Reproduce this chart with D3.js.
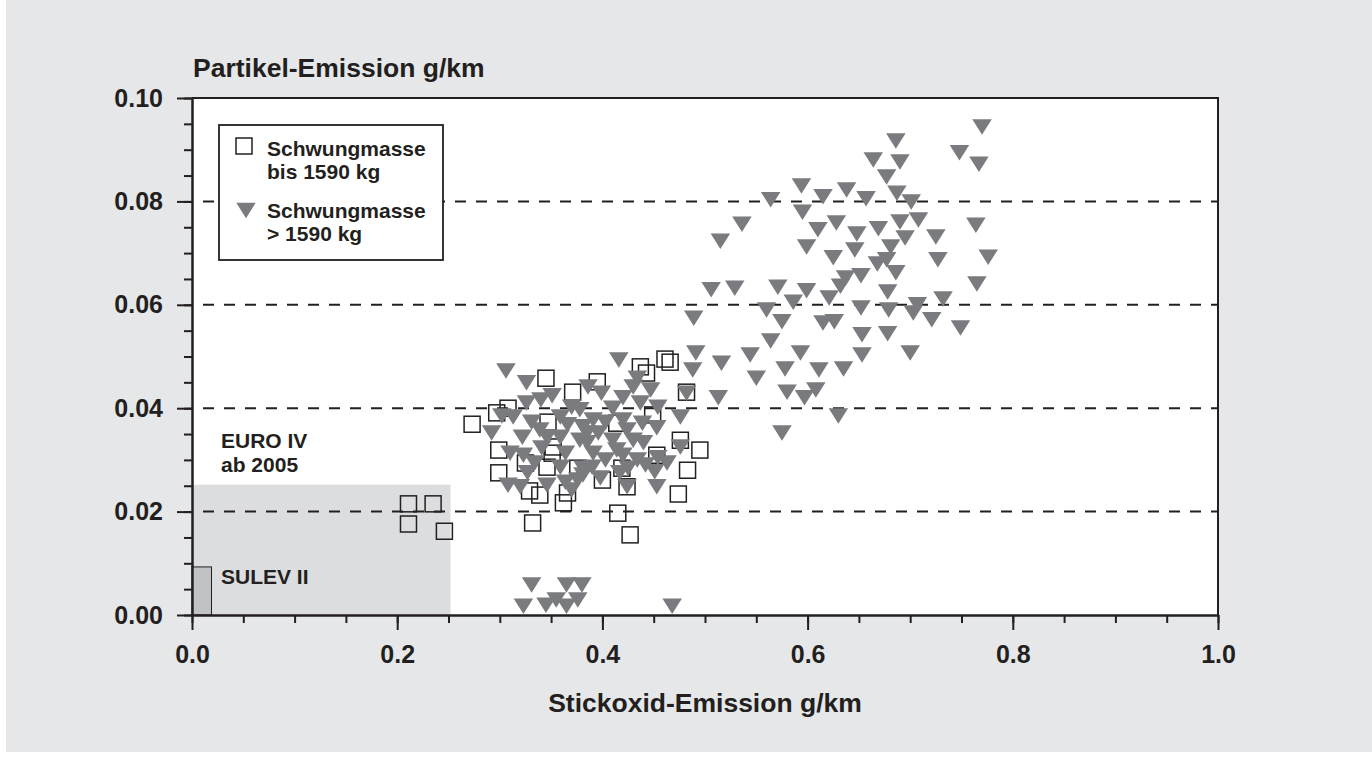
<!DOCTYPE html>
<html>
<head>
<meta charset="utf-8">
<script src="https://cdn.jsdelivr.net/npm/d3@7"></script>
<style>
  html, body { margin: 0; padding: 0; background: #ffffff; }
  svg { display: block; }
  text { font-family: "Liberation Sans", Arial, Helvetica, sans-serif; font-weight: bold; fill: #231f20; }
</style>
</head>
<body>
<svg id="chart" width="1372" height="758"></svg>
<script>
// Vehicles with inertia mass up to 1590 kg: [NOx g/km, PM g/km]
const lightVehicles = [
  [0.211, 0.0215], [0.235, 0.0215], [0.211, 0.0176], [0.246, 0.0162],
  [0.273, 0.0369], [0.297, 0.0391], [0.308, 0.0400], [0.345, 0.0458],
  [0.371, 0.0431], [0.347, 0.0373], [0.299, 0.0319], [0.299, 0.0275],
  [0.325, 0.0294], [0.346, 0.0286], [0.352, 0.0325], [0.329, 0.0240],
  [0.339, 0.0232], [0.362, 0.0217], [0.366, 0.0236], [0.376, 0.0284],
  [0.332, 0.0178], [0.351, 0.0313], [0.461, 0.0495], [0.466, 0.0489],
  [0.437, 0.0480], [0.443, 0.0468], [0.395, 0.0451], [0.482, 0.0431],
  [0.449, 0.0387], [0.414, 0.0371], [0.476, 0.0338], [0.495, 0.0319],
  [0.453, 0.0309], [0.483, 0.0280], [0.419, 0.0284], [0.400, 0.0261],
  [0.424, 0.0248], [0.474, 0.0234], [0.415, 0.0197], [0.427, 0.0155]
];

// Vehicles with inertia mass above 1590 kg: [NOx g/km, PM g/km]
const heavyVehicles = [
  [0.770, 0.0944], [0.686, 0.0917], [0.748, 0.0894], [0.767, 0.0872],
  [0.664, 0.0880], [0.690, 0.0876], [0.677, 0.0847], [0.638, 0.0822],
  [0.615, 0.0809], [0.657, 0.0805], [0.687, 0.0816], [0.701, 0.0799],
  [0.628, 0.0758], [0.648, 0.0737], [0.669, 0.0747], [0.690, 0.0760],
  [0.708, 0.0764], [0.695, 0.0729], [0.725, 0.0731], [0.764, 0.0754],
  [0.681, 0.0712], [0.646, 0.0706], [0.625, 0.0691], [0.668, 0.0679],
  [0.677, 0.0687], [0.727, 0.0687], [0.776, 0.0692], [0.686, 0.0662],
  [0.652, 0.0656], [0.637, 0.0652], [0.632, 0.0636], [0.765, 0.0640],
  [0.678, 0.0625], [0.621, 0.0613], [0.732, 0.0611], [0.707, 0.0600],
  [0.652, 0.0594], [0.679, 0.0590], [0.703, 0.0584], [0.721, 0.0571],
  [0.749, 0.0555], [0.626, 0.0567], [0.615, 0.0565], [0.653, 0.0542],
  [0.678, 0.0544], [0.653, 0.0503], [0.700, 0.0507], [0.594, 0.0830],
  [0.564, 0.0803], [0.595, 0.0779], [0.536, 0.0756], [0.610, 0.0745],
  [0.515, 0.0723], [0.599, 0.0712], [0.506, 0.0629], [0.529, 0.0632],
  [0.571, 0.0634], [0.599, 0.0627], [0.586, 0.0605], [0.560, 0.0590],
  [0.575, 0.0567], [0.489, 0.0574], [0.564, 0.0530], [0.544, 0.0503],
  [0.593, 0.0507], [0.491, 0.0507], [0.516, 0.0487], [0.635, 0.0476],
  [0.578, 0.0476], [0.611, 0.0474], [0.488, 0.0474], [0.550, 0.0458],
  [0.580, 0.0431], [0.608, 0.0435], [0.597, 0.0420], [0.513, 0.0420],
  [0.630, 0.0385], [0.575, 0.0352], [0.476, 0.0383], [0.482, 0.0429],
  [0.306, 0.0472], [0.326, 0.0449], [0.351, 0.0424], [0.340, 0.0416],
  [0.326, 0.0410], [0.302, 0.0385], [0.313, 0.0383], [0.331, 0.0373],
  [0.292, 0.0352], [0.322, 0.0344], [0.339, 0.0358], [0.346, 0.0344],
  [0.359, 0.0383], [0.370, 0.0402], [0.366, 0.0368], [0.381, 0.0364],
  [0.310, 0.0313], [0.323, 0.0309], [0.341, 0.0323], [0.359, 0.0344],
  [0.364, 0.0313], [0.378, 0.0338], [0.334, 0.0294], [0.327, 0.0275],
  [0.359, 0.0286], [0.381, 0.0284], [0.308, 0.0251], [0.320, 0.0248],
  [0.346, 0.0251], [0.364, 0.0257], [0.370, 0.0242], [0.376, 0.0261],
  [0.416, 0.0493], [0.434, 0.0458], [0.386, 0.0441], [0.399, 0.0429],
  [0.430, 0.0441], [0.447, 0.0435], [0.420, 0.0420], [0.437, 0.0410],
  [0.454, 0.0402], [0.410, 0.0400], [0.378, 0.0397], [0.391, 0.0377],
  [0.403, 0.0373], [0.420, 0.0377], [0.439, 0.0371], [0.453, 0.0362],
  [0.385, 0.0352], [0.396, 0.0352], [0.424, 0.0358], [0.410, 0.0338],
  [0.430, 0.0338], [0.440, 0.0333], [0.385, 0.0333], [0.476, 0.0325],
  [0.391, 0.0313], [0.414, 0.0319], [0.420, 0.0309], [0.403, 0.0300],
  [0.434, 0.0300], [0.442, 0.0290], [0.454, 0.0304], [0.463, 0.0294],
  [0.390, 0.0286], [0.425, 0.0284], [0.451, 0.0277], [0.398, 0.0265],
  [0.381, 0.0271], [0.417, 0.0275], [0.424, 0.0248], [0.453, 0.0248],
  [0.331, 0.0058], [0.323, 0.0017], [0.345, 0.0019], [0.355, 0.0029],
  [0.365, 0.0058], [0.380, 0.0058], [0.365, 0.0017], [0.376, 0.0029],
  [0.468, 0.0017]
];

// Emission limit boxes: [NOx limit, PM limit]
const euroIV = [0.252, 0.0252];
const sulevII = [0.019, 0.0093];

const xMajorTicks = [0, 0.2, 0.4, 0.6, 0.8, 1.0];
const xMinorTicks = d3.range(0, 1.0001, 0.05);
const yMajorTicks = [0, 0.02, 0.04, 0.06, 0.08, 0.10];
const yMinorTicks = d3.range(0, 0.10001, 0.005);
const gridValues = [0.02, 0.04, 0.06, 0.08];

const legendItems = [
  { type: "square", lines: ["Schwungmasse", "bis 1590 kg"] },
  { type: "triangle", lines: ["Schwungmasse", "> 1590 kg"] }
];

const INK = "#231f20";
const GREY_MARK = "#7a7b7e";

const svg = d3.select("#chart");
const W = 1372, H = 758;
const plot = { left: 192, right: 1218, top: 98, bottom: 615 };

const x = d3.scaleLinear().domain([0, 1]).range([plot.left, plot.right]);
const y = d3.scaleLinear().domain([0, 0.1]).range([plot.bottom, plot.top]);

// panel background
svg.append("rect").attr("x", 6).attr("y", 0).attr("width", W - 6).attr("height", H - 6).attr("fill", "#e6e7e8");

// plot area
svg.append("rect")
  .attr("x", x(0)).attr("y", y(0.1))
  .attr("width", x(1) - x(0)).attr("height", y(0) - y(0.1))
  .attr("fill", "#ffffff");

// EURO IV limit region
svg.append("rect")
  .attr("x", x(0)).attr("y", y(euroIV[1]))
  .attr("width", x(euroIV[0]) - x(0)).attr("height", y(0) - y(euroIV[1]))
  .attr("fill", "#dcdddf");

// SULEV II limit region
svg.append("rect")
  .attr("x", x(0)).attr("y", y(sulevII[1]))
  .attr("width", x(sulevII[0]) - x(0)).attr("height", y(0) - y(sulevII[1]))
  .attr("fill", "#c1c2c5").attr("stroke", INK).attr("stroke-width", 1);

// dashed horizontal grid
svg.append("g").selectAll("line").data(gridValues).join("line")
  .attr("x1", x(0) + 11).attr("x2", x(1))
  .attr("y1", d => y(d)).attr("y2", d => y(d))
  .attr("stroke", INK).attr("stroke-width", 2)
  .attr("stroke-dasharray", "11,10");

// frame: top and right border
svg.append("path")
  .attr("d", `M${x(0)},${y(0.1)}H${x(1)}V${y(0)}`)
  .attr("fill", "none").attr("stroke", INK).attr("stroke-width", 2);

// minor ticks
svg.append("g").attr("transform", `translate(0,${y(0)})`)
  .call(d3.axisBottom(x).tickValues(xMinorTicks).tickSize(8).tickFormat(""))
  .call(g => g.select(".domain").remove())
  .call(g => g.selectAll("line").attr("stroke", INK).attr("stroke-width", 2));
svg.append("g").attr("transform", `translate(${x(0)},0)`)
  .call(d3.axisLeft(y).tickValues(yMinorTicks).tickSize(8).tickFormat(""))
  .call(g => g.select(".domain").remove())
  .call(g => g.selectAll("line").attr("stroke", INK).attr("stroke-width", 2));

// major x axis
svg.append("g").attr("transform", `translate(0,${y(0)})`)
  .call(d3.axisBottom(x).tickValues(xMajorTicks).tickSize(15).tickSizeOuter(0).tickFormat(d3.format(".1f")))
  .call(g => g.select(".domain").attr("stroke", INK).attr("stroke-width", 2.5))
  .call(g => g.selectAll("line").attr("stroke", INK).attr("stroke-width", 2))
  .call(g => g.selectAll("text").attr("y", 30).attr("font-size", 25)
    .attr("font-family", null).attr("fill", INK));

// major y axis
svg.append("g").attr("transform", `translate(${x(0)},0)`)
  .call(d3.axisLeft(y).tickValues(yMajorTicks).tickSize(15).tickSizeOuter(0).tickFormat(d3.format(".2f")))
  .call(g => g.select(".domain").attr("stroke", INK).attr("stroke-width", 2.5))
  .call(g => g.selectAll("line").attr("stroke", INK).attr("stroke-width", 2))
  .call(g => g.selectAll("text").attr("x", -29).attr("font-size", 25)
    .attr("font-family", null).attr("fill", INK));

// region labels
svg.append("text").attr("x", x(0) + 29).attr("y", 448).attr("font-size", 21).text("EURO IV");
svg.append("text").attr("x", x(0) + 29).attr("y", 472).attr("font-size", 21).text("ab 2005");
svg.append("text").attr("x", x(0) + 29).attr("y", 584).attr("font-size", 21).text("SULEV II");

// marker shapes
const SQ = 16;
const TRI_W = 19.5, TRI_H = 15.5;
const triPath = `M${-TRI_W / 2},${-TRI_H / 2}L${TRI_W / 2},${-TRI_H / 2}L0,${TRI_H / 2}Z`;

function drawSquares(g, data) {
  g.selectAll("rect").data(data).join("rect")
    .attr("x", d => x(d[0]) - SQ / 2).attr("y", d => y(d[1]) - SQ / 2)
    .attr("width", SQ).attr("height", SQ)
    .attr("fill", "none").attr("stroke", INK).attr("stroke-width", 1.5);
}
function drawTriangles(g, data) {
  g.selectAll("path").data(data).join("path")
    .attr("d", triPath)
    .attr("transform", d => `translate(${x(d[0])},${y(d[1])})`)
    .attr("fill", GREY_MARK);
}

drawSquares(svg.append("g"), lightVehicles);
drawTriangles(svg.append("g"), heavyVehicles);

// legend
const legend = svg.append("g");
legend.append("rect").attr("x", 219).attr("y", 125).attr("width", 224).attr("height", 135)
  .attr("fill", "#ffffff").attr("stroke", INK).attr("stroke-width", 1.8);
legendItems.forEach((item, i) => {
  const base = 155.5 + i * 62;
  if (item.type === "square") {
    legend.append("rect").attr("x", 236).attr("y", base - 17.5).attr("width", SQ).attr("height", SQ)
      .attr("fill", "none").attr("stroke", INK).attr("stroke-width", 1.5);
  } else {
    legend.append("path").attr("d", triPath)
      .attr("transform", `translate(246,${base - 7})`).attr("fill", GREY_MARK);
  }
  item.lines.forEach((t, j) => {
    legend.append("text").attr("x", 267).attr("y", base + j * 23.5).attr("font-size", 21).text(t);
  });
});

// axis titles
svg.append("text").attr("x", 193).attr("y", 77).attr("font-size", 26.5).text("Partikel-Emission g/km");
svg.append("text").attr("x", (x(0) + x(1)) / 2).attr("y", 712).attr("text-anchor", "middle")
  .attr("font-size", 26.5).text("Stickoxid-Emission g/km");
</script>
</body>
</html>
